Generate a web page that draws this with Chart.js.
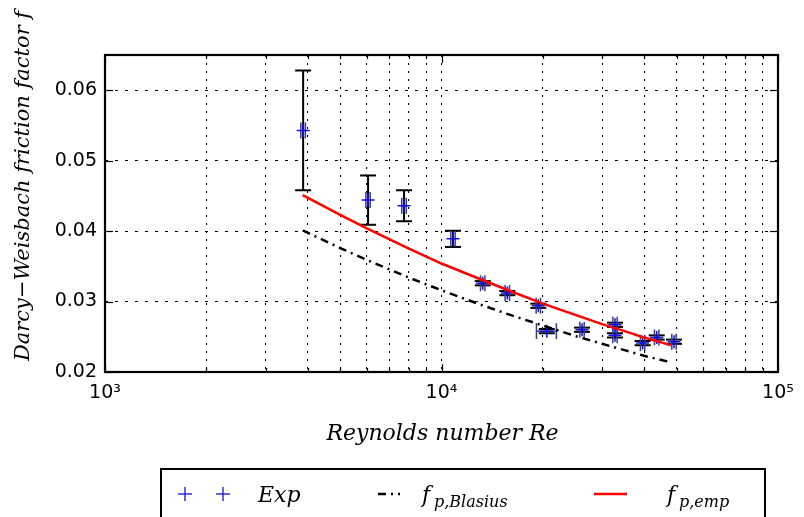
<!DOCTYPE html>
<html>
<head>
<meta charset="utf-8">
<script src="https://cdn.jsdelivr.net/npm/chart.js@4/dist/chart.umd.min.js"></script>
<style>
  html, body { margin: 0; padding: 0; background: #fff; }
  #wrap { position: relative; width: 804px; height: 517px; }
</style>
</head>
<body>
<div id="wrap"><canvas id="c" width="804" height="517"></canvas></div>
<script>
// Measured friction factors (Reynolds number, f, and their uncertainties)
const reExp  = [3880, 6050, 7740, 10820, 13260, 15690, 19400, 20550, 26160, 32780, 32780, 39600, 43600, 49080];
const fExp   = [0.0543, 0.0444, 0.0436, 0.0389, 0.0326, 0.0312, 0.0294, 0.0258, 0.0260, 0.0267, 0.0252, 0.0241, 0.0249, 0.0243];
const fErr   = [0.0085, 0.0035, 0.0022, 0.00115, 0.0003, 0.0003, 0.0003, 0.0003, 0.0003, 0.0003, 0.0003, 0.0003, 0.0003, 0.0003];
const reErr  = [60, 90, 120, 160, 200, 240, 290, 1400, 390, 490, 490, 590, 650, 730];

// Correlation curves sampled along Re
const reFit     = [3870, 5000, 6000, 8000, 10000, 13000, 16000, 20000, 25000, 30000, 35000, 40000, 45000, 48000];
const fBlasius  = [0.0401, 0.0376, 0.0359, 0.0334, 0.0316, 0.0296, 0.0281, 0.0266, 0.0251, 0.0240, 0.0231, 0.0223, 0.0217, 0.0214];
const fEmp      = [0.0451, 0.0423, 0.0404, 0.0375, 0.0354, 0.0332, 0.0315, 0.0297, 0.0281, 0.0268, 0.0258, 0.0249, 0.0242, 0.0238];

// Axis ticks
const xMajor = [1e3, 1e4, 1e5];
const xMajorLabels = ['10\u00B3', '10\u2074', '10\u2075'];
const xMinorMult = [2, 3, 4, 5, 6, 7, 8, 9];
const yTicks = [0.02, 0.03, 0.04, 0.05, 0.06];

const xTickValues = [];
xMajor.forEach((m, i) => {
  xTickValues.push(m);
  if (i < xMajor.length - 1) xMinorMult.forEach(k => xTickValues.push(m * k));
});

const serifItalic = (size) => `italic ${size}px "DejaVu Serif"`;

function line(ctx, x1, y1, x2, y2) {
  ctx.beginPath(); ctx.moveTo(x1, y1); ctx.lineTo(x2, y2); ctx.stroke();
}

// Error bars beneath the measurement markers
const errorBars = {
  id: 'errorBars',
  beforeDatasetsDraw(chart) {
    const { ctx, scales: { x, y } } = chart;
    const cap = 8;
    ctx.save();
    for (let i = 0; i < reExp.length; i++) {
      const px = x.getPixelForValue(reExp[i]);
      const py = y.getPixelForValue(fExp[i]);
      const t = y.getPixelForValue(fExp[i] + fErr[i]);
      const b = y.getPixelForValue(fExp[i] - fErr[i]);
      ctx.strokeStyle = '#000'; ctx.lineWidth = 2;
      line(ctx, px, t, px, b);
      line(ctx, px - cap, t, px + cap, t);
      line(ctx, px - cap, b, px + cap, b);
      const l = x.getPixelForValue(reExp[i] - reErr[i]);
      const r = x.getPixelForValue(reExp[i] + reErr[i]);
      ctx.strokeStyle = '#3a3a8a'; ctx.lineWidth = 1.5;
      line(ctx, l, py, r, py);
      line(ctx, l, py - cap, l, py + cap);
      line(ctx, r, py - cap, r, py + cap);
    }
    ctx.restore();
  }
};

// Frame, inward ticks, axis titles and legend
const decorations = {
  id: 'decorations',
  afterDraw(chart) {
    const { ctx, chartArea: a, scales: { x, y } } = chart;
    ctx.save();
    ctx.strokeStyle = '#000';
    ctx.lineWidth = 1.2;
    xTickValues.forEach(v => {
      const px = Math.round(x.getPixelForValue(v)) + 0.5;
      const len = xMajor.includes(v) ? 8 : 4;
      line(ctx, px, a.bottom, px, a.bottom - len);
      line(ctx, px, a.top, px, a.top + len);
    });
    yTicks.forEach(v => {
      const py = Math.round(y.getPixelForValue(v)) + 0.5;
      line(ctx, a.left, py, a.left + 8, py);
      line(ctx, a.right, py, a.right - 8, py);
    });
    ctx.lineWidth = 2.2;
    ctx.strokeRect(a.left, a.top, a.right - a.left, a.bottom - a.top);

    // axis titles
    ctx.fillStyle = '#000';
    ctx.textAlign = 'center';
    ctx.textBaseline = 'alphabetic';
    ctx.font = serifItalic(22);
    ctx.fillText('Reynolds number Re', (a.left + a.right) / 2 + 1, 440);
    ctx.save();
    ctx.translate(29, 186);
    ctx.rotate(-Math.PI / 2);
    ctx.font = serifItalic(21);
    ctx.fillText('Darcy\u2212Weisbach friction factor f', 0, 0);
    ctx.restore();

    // legend box
    ctx.lineWidth = 2;
    ctx.strokeRect(161, 469, 604, 80);
    const cy = 494;
    ctx.strokeStyle = '#1010e0'; ctx.lineWidth = 1.3;
    [185, 223].forEach(cx => {
      line(ctx, cx - 7, cy, cx + 7, cy);
      line(ctx, cx, cy - 7, cx, cy + 7);
    });
    ctx.strokeStyle = '#000'; ctx.lineWidth = 2.5;
    ctx.setLineDash([8, 5, 2, 5]);
    line(ctx, 378, cy, 400, cy);
    ctx.setLineDash([]);
    ctx.strokeStyle = '#ff0000';
    line(ctx, 594, cy, 627, cy);

    ctx.textAlign = 'left';
    ctx.font = serifItalic(22);
    ctx.fillText('Exp', 258, 502);
    ctx.fillText('f', 422, 502);
    ctx.fillText('f', 667, 502);
    ctx.font = serifItalic(16);
    ctx.fillText('p,Blasius', 434, 507);
    ctx.fillText('p,emp', 679, 507);
    ctx.restore();
  }
};

new Chart(document.getElementById('c'), {
  type: 'scatter',
  data: {
    datasets: [
      {
        label: 'Exp',
        data: reExp.map((r, i) => ({ x: r, y: fExp[i] })),
        showLine: false,
        pointStyle: 'cross',
        pointRadius: 6.5,
        pointBorderWidth: 1.5,
        borderColor: '#1010e0',
        backgroundColor: '#1010e0',
        order: 3
      },
      {
        label: 'f_p,Blasius',
        data: reFit.map((r, i) => ({ x: r, y: fBlasius[i] })),
        showLine: true,
        pointRadius: 0,
        borderColor: '#000',
        borderWidth: 2.5,
        borderDash: [8, 5, 2, 5],
        order: 2
      },
      {
        label: 'f_p,emp',
        data: reFit.map((r, i) => ({ x: r, y: fEmp[i] })),
        showLine: true,
        pointRadius: 0,
        borderColor: '#ff0000',
        borderWidth: 2.5,
        order: 1
      }
    ]
  },
  options: {
    responsive: false,
    animation: false,
    devicePixelRatio: 1,
    layout: { padding: { left: 0, right: 26, top: 55, bottom: 0 } },
    plugins: { legend: { display: false }, tooltip: { enabled: false } },
    scales: {
      x: {
        type: 'logarithmic',
        min: 1000, max: 100000,
        afterBuildTicks: s => { s.ticks = xTickValues.map(v => ({ value: v })); },
        afterFit: s => { s.height = 145; },
        ticks: {
          autoSkip: false, maxRotation: 0, padding: 10, color: '#000',
          font: { family: 'DejaVu Sans', size: 19 },
          callback: v => { const k = xMajor.indexOf(v); return k >= 0 ? xMajorLabels[k] : ''; }
        },
        grid: { color: '#000', lineWidth: 1.1, drawTicks: false },
        border: { display: false, dash: [2, 6] }
      },
      y: {
        type: 'linear',
        min: 0.02, max: 0.065,
        afterBuildTicks: s => { s.ticks = yTicks.map(v => ({ value: v })); },
        afterFit: s => { s.width = 105; },
        ticks: {
          padding: 8, color: '#000',
          font: { family: 'DejaVu Sans', size: 19 },
          callback: v => v.toFixed(2)
        },
        grid: { color: '#000', lineWidth: 1.1, drawTicks: false },
        border: { display: false, dash: [3, 7] }
      }
    }
  },
  plugins: [errorBars, decorations]
});
</script>
</body>
</html>
